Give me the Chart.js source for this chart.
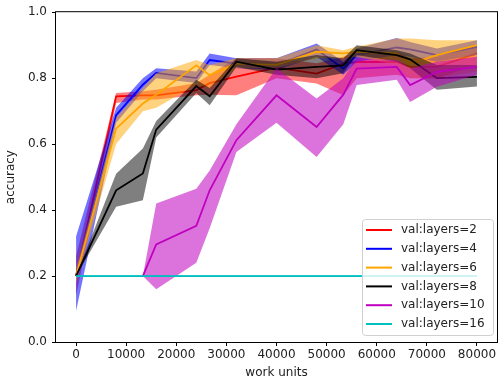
<!DOCTYPE html>
<html>
<head>
<meta charset="utf-8">
<script src="https://cdn.jsdelivr.net/npm/chart.js@4/dist/chart.umd.min.js"></script>
<style>
html, body { margin: 0; padding: 0; background: #fff; }
</style>
</head>
<body>
<canvas id="chart" width="499" height="383"></canvas>
<script>
// tick labels
const xTicks = [0, 10000, 20000, 30000, 40000, 50000, 60000, 70000, 80000];
const yTicks = [0, 0.2, 0.4, 0.6, 0.8, 1.0];

// shared x positions (work units)
const workUnits = [0, 8000, 13333, 16000, 24000, 26667, 32000, 40000, 48000, 53333, 56000, 64000, 66667, 72000, 80000];

// layers=2
const layers2 = [0.20, 0.745, 0.748, 0.748, 0.764, 0.785, 0.805, 0.832, 0.814, 0.844, 0.849, 0.849, 0.834, 0.834, 0.875];
const layers2Low = [0.14, 0.725, 0.735, 0.735, 0.748, 0.750, 0.748, 0.800, 0.784, 0.748, 0.800, 0.810, 0.800, 0.800, 0.840];
const layers2High = [0.26, 0.755, 0.760, 0.765, 0.785, 0.810, 0.860, 0.860, 0.845, 0.865, 0.880, 0.880, 0.860, 0.865, 0.895];

// layers=4
const layers4 = [0.20, 0.688, 0.780, 0.816, 0.800, 0.855, 0.844, 0.840, 0.887, 0.829, 0.870, 0.893, 0.887, 0.870, 0.895];
const layers4Low = [0.094, 0.665, 0.760, 0.800, 0.785, 0.840, 0.830, 0.825, 0.865, 0.810, 0.850, 0.870, 0.865, 0.850, 0.870];
const layers4High = [0.32, 0.710, 0.800, 0.830, 0.820, 0.875, 0.860, 0.860, 0.905, 0.850, 0.890, 0.922, 0.910, 0.890, 0.915];

// layers=6
const layers6 = [0.20, 0.647, 0.723, 0.750, 0.839, 0.809, 0.844, 0.840, 0.880, 0.875, 0.880, 0.875, 0.844, 0.870, 0.900];
const layers6Low = [0.18, 0.600, 0.700, 0.710, 0.780, 0.770, 0.830, 0.830, 0.860, 0.860, 0.865, 0.840, 0.800, 0.800, 0.820];
const layers6High = [0.22, 0.680, 0.770, 0.815, 0.855, 0.840, 0.860, 0.860, 0.900, 0.885, 0.895, 0.920, 0.920, 0.915, 0.915];

// layers=8
const layers8 = [0.20, 0.460, 0.511, 0.644, 0.776, 0.745, 0.850, 0.826, 0.834, 0.839, 0.885, 0.870, 0.857, 0.800, 0.804];
const layers8Low = [0.20, 0.410, 0.430, 0.620, 0.755, 0.718, 0.834, 0.810, 0.800, 0.815, 0.870, 0.850, 0.830, 0.765, 0.775];
const layers8High = [0.20, 0.510, 0.587, 0.670, 0.795, 0.770, 0.860, 0.850, 0.870, 0.860, 0.900, 0.885, 0.875, 0.840, 0.840];

// layers=10 (starts later)
const workUnits10 = [13333, 16000, 24000, 26667, 32000, 40000, 48000, 53333, 56000, 64000, 66667, 72000, 80000];
const layers10 = [0.20, 0.296, 0.352, 0.460, 0.612, 0.748, 0.652, 0.750, 0.829, 0.834, 0.779, 0.819, 0.834];
const layers10Low = [0.20, 0.160, 0.240, 0.345, 0.576, 0.665, 0.561, 0.660, 0.779, 0.795, 0.728, 0.774, 0.810];
const layers10High = [0.20, 0.420, 0.465, 0.520, 0.660, 0.830, 0.738, 0.800, 0.860, 0.855, 0.830, 0.850, 0.865];

// layers=16
const layers16 = [0.20, 0.20, 0.20, 0.20, 0.20, 0.20, 0.20, 0.20, 0.20, 0.20, 0.20, 0.20, 0.20, 0.20, 0.20];
const layers16Low = [0.197, 0.197, 0.197, 0.197, 0.197, 0.197, 0.197, 0.197, 0.197, 0.197, 0.197, 0.197, 0.197, 0.197, 0.197];
const layers16High = [0.203, 0.203, 0.203, 0.203, 0.203, 0.203, 0.203, 0.203, 0.203, 0.203, 0.203, 0.203, 0.203, 0.203, 0.203];

const series = [
    { label: 'val:layers=2', color: 'rgb(255,0,0)', band: 'rgba(255,0,0,0.5)', x: workUnits, mean: layers2, lo: layers2Low, hi: layers2High },
    { label: 'val:layers=4', color: 'rgb(0,0,255)', band: 'rgba(0,0,255,0.55)', x: workUnits, mean: layers4, lo: layers4Low, hi: layers4High },
    { label: 'val:layers=6', color: 'rgb(255,165,0)', band: 'rgba(255,165,0,0.5)', x: workUnits, mean: layers6, lo: layers6Low, hi: layers6High },
    { label: 'val:layers=8', color: 'rgb(0,0,0)', band: 'rgba(0,0,0,0.5)', x: workUnits, mean: layers8, lo: layers8Low, hi: layers8High },
    { label: 'val:layers=10', color: 'rgb(191,0,191)', band: 'rgba(191,0,191,0.55)', x: workUnits10, mean: layers10, lo: layers10Low, hi: layers10High },
    { label: 'val:layers=16', color: 'rgb(0,191,191)', band: 'rgba(0,191,191,0.5)', x: workUnits, mean: layers16, lo: layers16Low, hi: layers16High }
];

const font = { family: 'DejaVu Sans', size: 12 };

// band lower, band upper (filled to lower), then the mean line; later series on top
const datasets = [];
series.forEach(s => {
    const pts = arr => s.x.map((x, j) => ({ x: x, y: arr[j] }));
    const k = datasets.length;
    datasets.push({ data: pts(s.lo), borderColor: 'transparent', borderWidth: 0, pointRadius: 0, fill: false, order: 100 - k });
    datasets.push({ data: pts(s.hi), borderColor: 'transparent', borderWidth: 0, pointRadius: 0, fill: '-1', backgroundColor: s.band, order: 99 - k });
    datasets.push({ label: s.label, data: pts(s.mean), borderColor: s.color, borderWidth: 1.8, pointRadius: 0, fill: false, order: 98 - k });
});

// axes frame
const frame = {
    id: 'frame',
    afterDatasetsDraw(chart) {
        const { ctx, chartArea: a } = chart;
        ctx.save();
        ctx.strokeStyle = '#000';
        ctx.lineWidth = 1;
        ctx.strokeRect(a.left - 0.5, a.top - 0.5, a.right - a.left + 1, a.bottom - a.top + 1);
        ctx.restore();
    }
};

// matplotlib-style legend inside the lower right corner
const legendBox = {
    id: 'legendBox',
    afterDraw(chart) {
        const { ctx, chartArea: a } = chart;
        const w = 131, h = 116;
        const x0 = a.right - 4 - w, y0 = a.bottom - 7 - h;
        ctx.save();
        ctx.fillStyle = 'rgba(255,255,255,0.8)';
        ctx.strokeStyle = '#d0d0d0';
        ctx.lineWidth = 1;
        ctx.beginPath();
        ctx.roundRect(x0 + 0.5, y0 + 0.5, w, h, 3);
        ctx.fill();
        ctx.stroke();
        ctx.font = '12px "DejaVu Sans"';
        ctx.textBaseline = 'middle';
        series.forEach((s, i) => {
            const y = y0 + 11 + i * 18.8;
            ctx.strokeStyle = s.color;
            ctx.lineWidth = 2;
            ctx.beginPath();
            ctx.moveTo(x0 + 4, y);
            ctx.lineTo(x0 + 30, y);
            ctx.stroke();
            ctx.fillStyle = '#222';
            ctx.fillText(s.label, x0 + 39, y);
        });
        ctx.restore();
    }
};

new Chart(document.getElementById('chart').getContext('2d'), {
    type: 'line',
    data: { datasets: datasets },
    options: {
        responsive: false,
        animation: false,
        layout: { padding: { left: 0, right: 2, top: 12, bottom: 0 } },
        elements: { line: { tension: 0 } },
        plugins: {
            legend: { display: false },
            tooltip: { enabled: false }
        },
        scales: {
            x: {
                type: 'linear',
                min: -4000,
                max: 84000,
                afterBuildTicks: s => { s.ticks = xTicks.map(v => ({ value: v })); },
                afterFit: s => { s.height = 41; },
                grid: { drawOnChartArea: false, drawTicks: true, tickLength: 4, color: '#000' },
                border: { display: false },
                ticks: { font: font, color: '#222', padding: 2, maxRotation: 0, autoSkip: false, callback: v => String(v) },
                title: { display: true, text: 'work units', font: font, color: '#222', padding: { top: 0, bottom: 3 } }
            },
            y: {
                min: 0,
                max: 1,
                afterBuildTicks: s => { s.ticks = yTicks.map(v => ({ value: v })); },
                afterFit: s => { s.width = 56; },
                grid: { drawOnChartArea: false, drawTicks: true, tickLength: 4, color: '#000' },
                border: { display: false },
                ticks: { font: font, color: '#222', padding: 5, callback: v => v.toFixed(1) },
                title: { display: true, text: 'accuracy', font: font, color: '#222', padding: { top: 4, bottom: 0 } }
            }
        }
    },
    plugins: [frame, legendBox]
});
</script>
</body>
</html>
